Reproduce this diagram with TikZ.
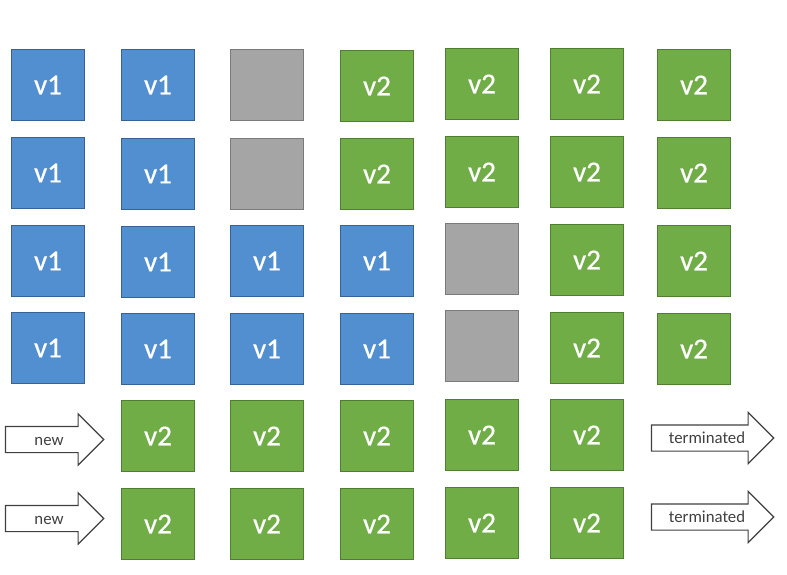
\documentclass[tikz,border=0pt]{standalone}
\usepackage{fontspec}
\setmainfont{Carlito}
\newfontfamily\boxfont{Carlito}[FakeBold=0.6]
\usetikzlibrary{positioning}
\usetikzlibrary{shapes.arrows}
\definecolor{oldfill}{RGB}{82,143,208}
\definecolor{oldline}{RGB}{56,98,148}
\definecolor{newfill}{RGB}{112,173,71}
\definecolor{newline}{RGB}{80,126,50}
\definecolor{offfill}{RGB}{165,165,165}
\definecolor{offline}{RGB}{122,122,122}
\definecolor{arrowline}{RGB}{64,64,64}

\begin{document}
\begin{tikzpicture}[x = 1pt, y = -1pt, box node/.style={minimum width = 73pt, minimum height = 71pt, inner sep = 0pt, line width = 1.4pt, text = white, font=\boxfont\fontsize{29}{29}\selectfont}, old node/.style={box node, fill=oldfill, draw=oldline}, new node/.style={box node, fill=newfill, draw=newline}, off node/.style={box node, fill=offfill, draw=offline}, arrow node/.style={single arrow, single arrow head indent = 0pt, single arrow head extend = 12.5pt, draw=arrowline, line width = 1.2pt, fill=white, text=arrowline, inner sep = 0pt, text height = 18pt, text depth = 7pt, align = center, font=\fontsize{16.8}{16.8}\selectfont}]
      \useasboundingbox (0, 0) rectangle (787, 574);
      % row 1
      \node[old node] (r1c1) at (48, 85) {v1};
      \node[old node] (r1c2) at (158, 85) {v1};
      \node[off node] (r1c3) at (267, 85) {};
      \node[new node] (r1c4) at (377, 86) {v2};
      \node[new node] (r1c5) at (482, 84) {v2};
      \node[new node] (r1c6) at (587, 84) {v2};
      \node[new node] (r1c7) at (694, 85) {v2};
      % row 2
      \node[old node] (r2c1) at (48, 173) {v1};
      \node[old node] (r2c2) at (158, 174) {v1};
      \node[off node] (r2c3) at (267, 174) {};
      \node[new node] (r2c4) at (377, 174) {v2};
      \node[new node] (r2c5) at (482, 172) {v2};
      \node[new node] (r2c6) at (587, 172) {v2};
      \node[new node] (r2c7) at (694, 173) {v2};
      % row 3
      \node[old node] (r3c1) at (48, 261) {v1};
      \node[old node] (r3c2) at (158, 262) {v1};
      \node[old node] (r3c3) at (267, 261) {v1};
      \node[old node] (r3c4) at (377, 261) {v1};
      \node[off node] (r3c5) at (482, 259) {};
      \node[new node] (r3c6) at (587, 260) {v2};
      \node[new node] (r3c7) at (694, 261) {v2};
      % row 4
      \node[old node] (r4c1) at (48, 348) {v1};
      \node[old node] (r4c2) at (158, 349) {v1};
      \node[old node] (r4c3) at (267, 349) {v1};
      \node[old node] (r4c4) at (377, 349) {v1};
      \node[off node] (r4c5) at (482, 346) {};
      \node[new node] (r4c6) at (587, 348) {v2};
      \node[new node] (r4c7) at (694, 349) {v2};
      % row 5
      \node[arrow node, text width = 84pt] (a5in) at (48, 439.5) {\hspace*{2pt}new};
      \node[new node] (r5c2) at (158, 436) {v2};
      \node[new node] (r5c3) at (267, 436) {v2};
      \node[new node] (r5c4) at (377, 436) {v2};
      \node[new node] (r5c5) at (482, 435) {v2};
      \node[new node] (r5c6) at (587, 435) {v2};
      \node[arrow node, text width = 108pt] (a5out) at (706, 438) {\hspace*{2pt}terminated};
      % row 6
      \node[arrow node, text width = 84pt] (a6in) at (48, 518.5) {\hspace*{2pt}new};
      \node[new node] (r6c2) at (158, 524) {v2};
      \node[new node] (r6c3) at (267, 524) {v2};
      \node[new node] (r6c4) at (377, 524) {v2};
      \node[new node] (r6c5) at (482, 523) {v2};
      \node[new node] (r6c6) at (587, 523) {v2};
      \node[arrow node, text width = 108pt] (a6out) at (706, 517) {\hspace*{2pt}terminated};
    \end{tikzpicture}
\end{document}
